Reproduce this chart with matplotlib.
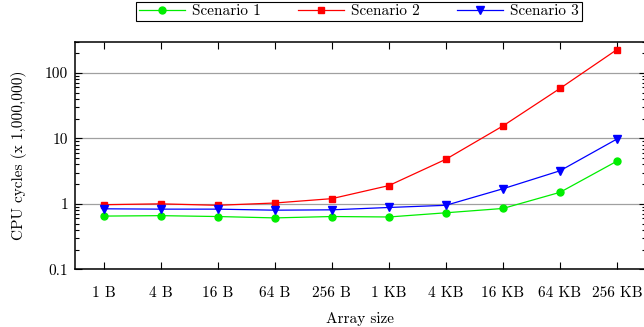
import matplotlib
matplotlib.use("Agg")
import matplotlib.pyplot as plt
import matplotlib.ticker as mticker
import numpy as np

categories = ["1 B", "4 B", "16 B", "64 B", "256 B", "1 KB", "4 KB", "16 KB", "64 KB", "256 KB"]
scenario1 = [0.65, 0.66, 0.64, 0.61, 0.64, 0.63, 0.73, 0.85, 1.5, 4.5]
scenario2 = [0.97, 1.0, 0.95, 1.03, 1.2, 1.9, 4.8, 15.5, 58, 228]
scenario3 = [0.84, 0.83, 0.83, 0.80, 0.81, 0.88, 0.95, 1.7, 3.2, 9.8]
ytick_vals = [0.1, 1, 10, 100]
ytick_labels = ["0.1", "1", "10", "100"]

plt.rcParams["font.family"] = "serif"
plt.rcParams["font.serif"] = ["cmr10", "DejaVu Serif"]
plt.rcParams["axes.formatter.use_mathtext"] = True
plt.rcParams["font.size"] = 11

fig = plt.figure(figsize=(6.44, 3.27), dpi=100)
ax = fig.add_axes([75/644, 57.7/327, 570.6/644, 227.6/327])

x = np.arange(len(categories))
ax.plot(x, scenario1, color="#00ee00", marker="o", markersize=5, lw=0.9, label="Scenario 1", zorder=3)
ax.plot(x, scenario2, color="#ff0000", marker="s", markersize=5, lw=0.9, label="Scenario 2", zorder=3)
ax.plot(x, scenario3, color="#0000ff", marker="v", markersize=6, lw=0.9, label="Scenario 3", zorder=3)

ax.set_yscale("log")
ax.set_ylim(0.1, 300)
ax.set_xlim(-0.5, len(categories) - 0.5)
ax.set_xticks(x)
ax.set_xticklabels(categories)
ax.set_yticks(ytick_vals)
ax.set_yticklabels(ytick_labels)
ax.yaxis.set_minor_locator(mticker.LogLocator(base=10, subs=np.arange(2, 10)))
ax.yaxis.set_minor_formatter(mticker.NullFormatter())
ax.grid(axis="y", which="major", color="#a0a0a0", lw=0.9)
ax.tick_params(which="both", direction="in", top=True, right=True, width=0.8)
ax.tick_params(which="major", length=5)
ax.tick_params(which="minor", length=3)
ax.tick_params(axis="x", pad=12)
ax.tick_params(axis="y", pad=5)
for s in ax.spines.values():
    s.set_linewidth(1.1)

ax.set_xlabel("Array size", labelpad=9)
ax.set_ylabel("CPU cycles (x 1,000,000)", labelpad=13)

leg = ax.legend(loc="lower center", ncol=3, frameon=True, fancybox=False, edgecolor="black", framealpha=1,
                handlelength=3, columnspacing=2.4, borderpad=0.2, handletextpad=0.5,
                bbox_to_anchor=(359/644, 1 - 29/327), bbox_transform=fig.transFigure)
leg.get_frame().set_linewidth(0.8)

fig.savefig("out.png", dpi=100)
